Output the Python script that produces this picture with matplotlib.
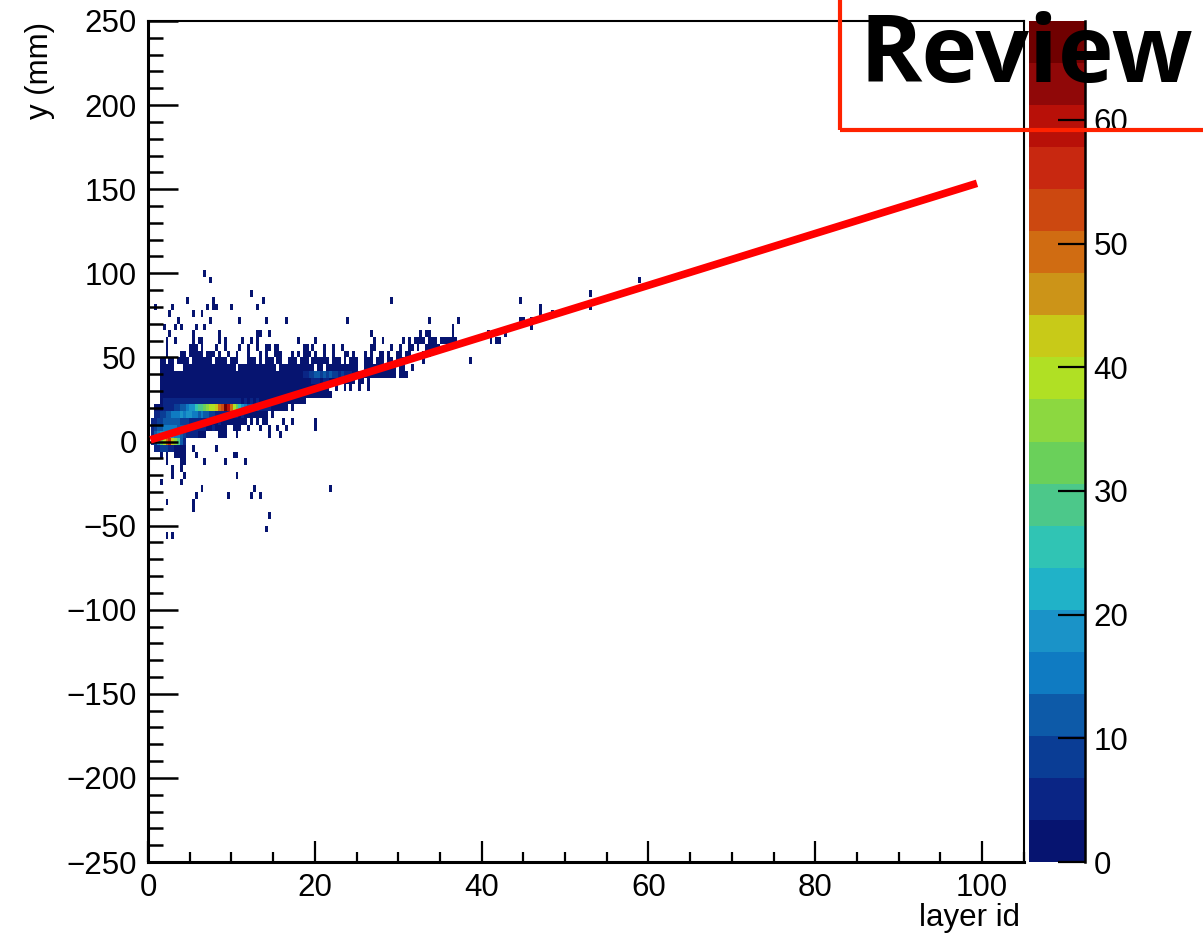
import numpy as np
import matplotlib.pyplot as plt
from matplotlib.colors import ListedColormap, BoundaryNorm
from matplotlib.patches import Rectangle
from matplotlib.lines import Line2D
from matplotlib.ticker import MultipleLocator

plt.rcParams['font.family'] = ['Liberation Sans', 'DejaVu Sans']

# histogram binning: layer id 0-105 in 300 bins, y -250..250 mm in 125 bins (4 mm)
x_edges = np.linspace(0, 105, 301)
y_edges = np.linspace(-250, 250, 126)

# entries per bin, coded by one character
code_counts = {'.': 0, '1': 1, '2': 2, '3': 4, '4': 6, '5': 9, '6': 12, '7': 16,
               '8': 20, '9': 24, 'a': 28, 'b': 32, 'c': 36, 'd': 40, 'e': 44,
               'f': 48, 'g': 52, 'h': 56, 'i': 60, 'j': 65}

# dense rows: y bin centre (mm) -> codes for x bins 0,1,2,... ('|' every 10 bins)
dense_rows = {
    60: "......1..1|.....1.11.|....1.1...|..1..1.1..|..........|.1.....1..|..........|.......1..|1......1.1|.1121.221.|121211....|.......1.1|1",
    56: "......1...|....111.1.|...1..1...|.1..1..1..|11.11.....|...11.1...|1..1..1...|......11..|...1..1..1|1.1..12121",
    52: "......1...|.11.11111.|111.1..1..|1...1...1.|1..111...1|.1.111.1..|1..1...11.|1...1.1..1|1.1..11.11|....1.1...",
    48: "....11.11.|1111.11111|11.1111.11|1...111.1.|111.11..11|1.111.1111|11.111.1.1|11..111.11|1.11.1111.|....1.....|..........|1",
    44: "....11111.|..11111111|1121111211|.111111111|1111.11111|1111111.11|.111111111|11..111111|11111.11..|1.........",
    40: "....111211|1121112111|1211121112|1112111211|1121112111|1123455665|6565545443|2111111111|11111.111.",
    36: "....111111|2111211121|1121112111|1211121112|1112111211|2112223332|3322211211|1.11.1....",
    32: "....112111|2112121121|1211211121|1121112111|2111211121|1121111211|11..1..1.1|..1..1....",
    28: "....121212|2212212122|1221221212|2121212121|1211211121|1112111211|111.......",
    24: "....233344|4443434443|4434343433|3323232322|2121211121|1121......",
    20: "..12233445|5667889aab|cddefgjifd|b987665544|33221211.1",
    16: "..33556677|7878877676|6554443433|3232221212|1.1.......",
    12: ".345566666|6555443433|3322322212|2121.1.1.1|1.....1..1|.......1..",
    8: ".456677777|6665544333|2232211..1|11..1...1.|.1..1..1..|.......1..",
    4: ".367889987|7654433221|....111...|1.........|.1...1....",
    0: ".358bdfhec|a63.......",
    -4: "..34555432|221..1....|...1......",
}

# lone bins with a single entry: y bin centre (mm) -> x bin indices
single_bins = {
    100: [19],
    96: [21, 168],
    88: [35, 151],
    84: [13, 22, 39, 83, 127],
    80: [2, 8, 20, 22, 23, 28, 37, 134, 151],
    76: [7, 15, 18, 134, 138],
    72: [10, 21, 31, 40, 47, 68, 96, 106, 127, 128, 131],
    68: [5, 9, 11, 16, 19, 104, 131],
    64: [7, 15, 24, 37, 38, 41, 76, 93, 95, 96, 104, 116, 122],
    -8: [4, 6, 9, 10, 11, 12, 16, 29, 30],
    -12: [6, 11, 12, 19, 26, 33],
    -16: [8, 11],
    -20: [8, 12, 30],
    -24: [4, 11],
    -28: [18, 36, 62],
    -32: [16, 27, 35, 38],
    -36: [6, 15],
    -40: [15],
    -44: [41],
    -52: [40],
    -56: [6, 8],
}

# straight-line fit drawn over the histogram
fit_x = [0.3, 99.4]
fit_y = [1.0, 153.5]

z_max = 68
palette = ['#061470', '#0a2585', '#0a3d95', '#0d5aa8', '#0f7bc2', '#1a93c8',
           '#20b2c8', '#30c4b4', '#4cc88a', '#6ad05a', '#8cd840', '#b0e024',
           '#c8ca18', '#cc9418', '#d06c12', '#cc4810', '#c82810', '#b81008',
           '#900808', '#700000']

# fill the histogram
counts = np.zeros((len(y_edges) - 1, len(x_edges) - 1))
for yc, row in dense_rows.items():
    iy = np.searchsorted(y_edges, yc) - 1
    for ix, ch in enumerate(row.replace('|', '')):
        counts[iy, ix] += code_counts[ch]
for yc, cols in single_bins.items():
    iy = np.searchsorted(y_edges, yc) - 1
    for ix in cols:
        counts[iy, ix] += 1

W, H = 1203, 940
fig = plt.figure(figsize=(W / 100, H / 100), dpi=100)
ax = fig.add_axes([148 / W, 78 / H, 875.7 / W, 841 / H])
cax = fig.add_axes([1029 / W, 78 / H, 56 / W, 841 / H])

cmap = ListedColormap(palette)
norm = BoundaryNorm(np.linspace(0, z_max, len(palette) + 1), len(palette))
mesh = ax.pcolormesh(x_edges, y_edges, np.ma.masked_equal(counts, 0),
                     cmap=cmap, norm=norm, antialiased=False, linewidth=0)
ax.plot(fit_x, fit_y, color='#ff0000', lw=5.5, solid_capstyle='butt', zorder=5)

ax.set_xlim(0, 105)
ax.set_ylim(-250, 250)
ax.xaxis.set_major_locator(MultipleLocator(20))
ax.xaxis.set_minor_locator(MultipleLocator(5))
ax.yaxis.set_major_locator(MultipleLocator(50))
ax.yaxis.set_minor_locator(MultipleLocator(10))
ax.tick_params(axis='y', which='major', direction='in', length=21.6, width=1.8,
               labelsize=22.5, pad=8)
ax.tick_params(axis='y', which='minor', direction='in', length=10.8, width=1.8)
ax.tick_params(axis='x', which='major', direction='in', length=15, width=1.6,
               labelsize=22.5, pad=8)
ax.tick_params(axis='x', which='minor', direction='in', length=7.5, width=1.6)
for side in ['left', 'bottom']:
    ax.spines[side].set_linewidth(2.2)
for side in ['top', 'right']:
    ax.spines[side].set_linewidth(1.5)

# palette axis
cb = fig.colorbar(mesh, cax=cax, ticks=[0, 10, 20, 30, 40, 50, 60])
cb.outline.set_visible(False)
cax.minorticks_off()
cax.tick_params(direction='in', length=19.5, width=1.6, labelsize=22.5, pad=6)
cax.add_line(Line2D([1, 1], [0, 1], transform=cax.transAxes, color='black',
                    lw=1.8, clip_on=False))

fig.text(40 / W, 1 - 22 / H, 'y (mm)', rotation=90, ha='center', va='top', fontsize=22.5)
fig.text(1020 / W, 1 - 918 / H, 'layer id', ha='right', va='center', fontsize=22.5)

# review stamp
fig.add_artist(Rectangle((840 / W, 1 - 130 / H), 0.5, 0.5, transform=fig.transFigure,
                         fill=False, edgecolor='#ff2200', lw=3, zorder=9))
fig.text(860 / W, 1 - 82 / H, 'Review', fontsize=68, fontweight='bold',
         family=['Open Sans', 'DejaVu Sans'], ha='left', va='baseline', zorder=10)

fig.savefig('out.png', dpi=100)
